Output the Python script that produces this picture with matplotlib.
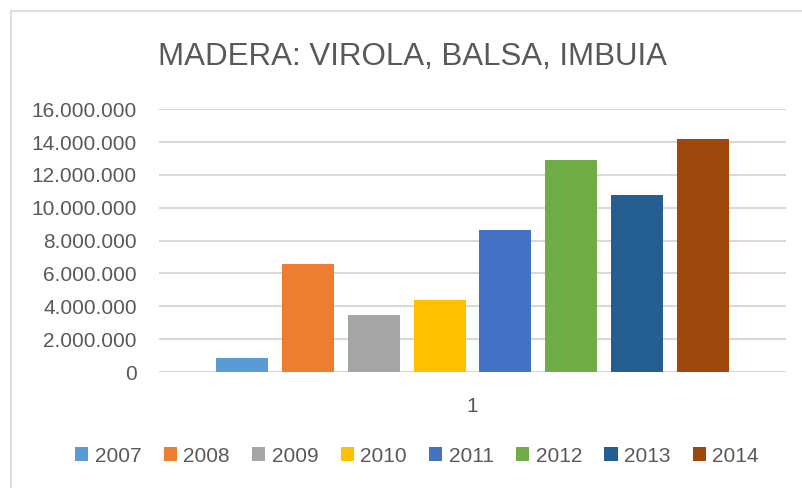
import matplotlib.pyplot as plt
from matplotlib.lines import Line2D
from matplotlib.ticker import FuncFormatter, MultipleLocator

# datos
years = ['2007', '2008', '2009', '2010', '2011', '2012', '2013', '2014']
values = [830000, 6570000, 3460000, 4370000, 8640000, 12910000, 10770000, 14190000]
colors = ['#5B9BD5', '#ED7D31', '#A5A5A5', '#FFC000', '#4472C4', '#70AD47', '#255E91', '#9E480E']
category = ['1']

plt.rcParams['font.family'] = ['Liberation Sans', 'DejaVu Sans']
gray = '#595959'

fig = plt.figure(figsize=(8.02, 4.88), dpi=100)
ax = fig.add_axes([159 / 802, 1 - 372 / 488, 627 / 802, (372 - 109.3) / 488])

# una barra por serie alrededor de la categoria 0
n = len(years)
for i, (y, v, c) in enumerate(zip(years, values, colors)):
    ax.bar(i - (n - 1) / 2, v, width=0.79, color=c, label=y, zorder=3)

ax.set_xlim(-4.76, 4.76)
ax.set_ylim(0, 16000000)
ax.yaxis.set_major_locator(MultipleLocator(2000000))
ax.yaxis.set_major_formatter(FuncFormatter(lambda v, p: f"{int(v):,}".replace(",", ".")))
ax.set_xticks([0])
ax.set_xticklabels(category)

ax.grid(axis='y', color='#d9d9d9', linewidth=1.5, zorder=0)
for s in ax.spines.values():
    s.set_visible(False)
ax.tick_params(axis='both', length=0, labelsize=15, colors=gray)
ax.tick_params(axis='y', pad=16)
ax.tick_params(axis='x', pad=18)

fig.text(413 / 802, 1 - 57 / 488, 'MADERA: VIROLA, BALSA, IMBUIA', ha='center', va='center',
         fontsize=22.5, color=gray)

fig.legend(loc='center', bbox_to_anchor=(417 / 802, 1 - 456 / 488), ncol=n, frameon=False,
           fontsize=15, labelcolor=gray, handlelength=0.63, handleheight=0.63,
           handletextpad=0.3, columnspacing=1.08)

# borde del grafico (solo izquierda y arriba son visibles)
fig.add_artist(Line2D([11 / 802, 11 / 802], [0, 1 - 11 / 488], color='#d9d9d9', linewidth=1.2))
fig.add_artist(Line2D([11 / 802, 1], [1 - 11 / 488, 1 - 11 / 488], color='#d9d9d9', linewidth=1.2))

fig.savefig('out.png', dpi=100)
